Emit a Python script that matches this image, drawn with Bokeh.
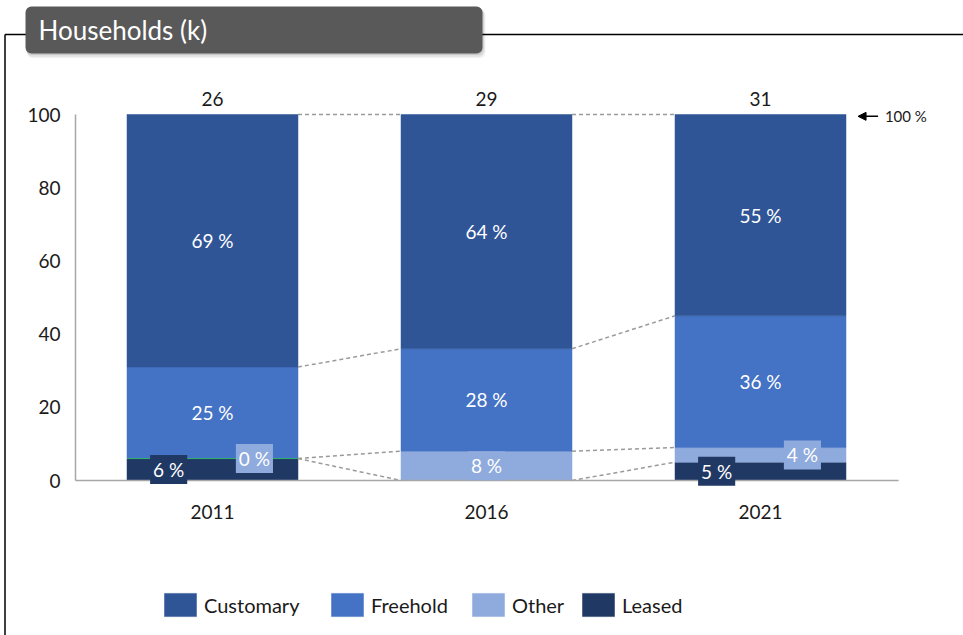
from bokeh.plotting import figure
from bokeh.models import ColumnDataSource, Range1d, Legend, LegendItem, Arrow, NormalHead
from bokeh.embed import file_html
from bokeh.resources import INLINE
from bokeh.core.properties import value

# ---------------- data ----------------
years = ["2011", "2016", "2021"]
totals_k = [26, 29, 31]
customary = [69, 64, 55]
freehold = [25, 28, 36]
other = [0, 8, 4]
leased = [6, 0, 5]
y_ticks = [0, 20, 40, 60, 80, 100]
legend_names = ["Customary", "Freehold", "Other", "Leased"]
title_text = "Households (k)"
ref_text = "100 %"

# ---------------- style / layout ----------------
C_CUST, C_FREE, C_OTH, C_LEAS = "#2F5597", "#4472C4", "#8FAADC", "#203864"
FONT_NAME = "Lato"
FONT = value(FONT_NAME)
TXT = "#1a1a1a"
FS = "19px"
W, H = 963, 635
X_PX0, X_SCALE = 75.0, 274.0   # canvas px of x=-0.5, px per unit
Y_PX0, Y_SCALE = 480.0, 3.66   # canvas px of y=0, px per unit


def px_x(fx):
    return -0.5 + (fx - X_PX0) / X_SCALE


def px_y(fy):
    return (Y_PX0 - fy) / Y_SCALE


p = figure(width=W, height=H,
           x_range=Range1d(px_x(0), px_x(W)), y_range=Range1d(px_y(H), px_y(0)),
           output_backend="svg", toolbar_location=None, min_border=0,
           x_axis_location=None, y_axis_location=None, outline_line_color=None)
p.grid.visible = False
p.background_fill_color = "white"
p.border_fill_color = "white"

# ---------------- frame lines & title box ----------------
p.segment(x0=[px_x(4.5), px_x(4.5)], y0=[px_y(34), px_y(34)],
          x1=[px_x(W), px_x(4.5)], y1=[px_y(34), px_y(H)],
          line_color="#000000", line_width=1.5)
for i, a in enumerate([0.10, 0.07, 0.05]):
    d = i + 1
    p.quad(left=px_x(25 + 0.5 * d), right=px_x(482 + d), top=px_y(6 + d), bottom=px_y(53 + 1.6 * d),
           fill_color="#000000", fill_alpha=a, line_color=None, border_radius=6)
p.quad(left=px_x(25), right=px_x(482), top=px_y(6), bottom=px_y(53),
       fill_color="#595959", line_color=None, border_radius=6)
p.text(x=[px_x(38)], y=[px_y(29)], text=[title_text], text_font=FONT,
       text_font_size="26px", text_color="white", text_align="left", text_baseline="middle")

# ---------------- bars ----------------
xs = list(range(len(years)))
bar_w = 0.624
l_top = list(leased)
o_top = [a + b for a, b in zip(l_top, other)]
f_top = [a + b for a, b in zip(o_top, freehold)]
c_top = [a + b for a, b in zip(f_top, customary)]

src = ColumnDataSource(dict(x=xs, leased=leased, other=other, freehold=freehold, customary=customary))
rs = p.vbar_stack(["leased", "other", "freehold", "customary"], x="x", width=bar_w,
                  color=[C_LEAS, C_OTH, C_FREE, C_CUST], line_width=0.5, source=src)

# thin line where "Other" has zero height
zx = [x for x, o in zip(xs, other) if o == 0]
zy = [l for l, o in zip(l_top, other) if o == 0]
p.segment(x0=[x - bar_w / 2 for x in zx], x1=[x + bar_w / 2 for x in zx], y0=zy, y1=zy,
          line_color="#2fb36a", line_width=1)

# connectors between bars
cx0, cx1, cy0, cy1 = [], [], [], []
for i in range(len(xs) - 1):
    for lev in (l_top, o_top, f_top, c_top):
        cx0.append(xs[i] + bar_w / 2)
        cx1.append(xs[i + 1] - bar_w / 2)
        cy0.append(lev[i])
        cy1.append(lev[i + 1])
p.segment(x0=cx0, y0=cy0, x1=cx1, y1=cy1, line_color="#9a9a9a", line_width=1.5, line_dash="4 3")

# axis lines
p.segment(x0=[-0.5, -0.5], y0=[0, 0], x1=[-0.5, xs[-1] + 0.504], y1=[y_ticks[-1], 0],
          line_color="#a6a6a6", line_width=1.5)

# tick labels
p.text(x=[-0.5] * len(y_ticks), y=y_ticks, text=[str(t) for t in y_ticks], x_offset=-15,
       text_font=FONT, text_font_size=FS, text_color=TXT, text_align="right", text_baseline="middle")
p.text(x=xs, y=[0] * len(xs), text=years, y_offset=31,
       text_font=FONT, text_font_size=FS, text_color=TXT, text_align="center", text_baseline="middle")

# totals
p.text(x=xs, y=c_top, text=[str(t) for t in totals_k], y_offset=-16,
       text_font=FONT, text_font_size=FS, text_color=TXT, text_align="center", text_baseline="middle")


# segment labels
def pct(v):
    return f"{v} %"


p.text(x=xs, y=[(a + b) / 2 for a, b in zip(f_top, c_top)], text=[pct(v) for v in customary],
       text_font=FONT, text_font_size=FS, text_color="white", text_align="center", text_baseline="middle")
p.text(x=xs, y=[(a + b) / 2 for a, b in zip(o_top, f_top)], text=[pct(v) for v in freehold],
       text_font=FONT, text_font_size=FS, text_color="white", text_align="center", text_baseline="middle")

oth_dx = [0.153, 0.0, 0.153]
leas_dx = [-0.16, 0.0, -0.16]
p.text(x=[x + d for x, d in zip(xs, oth_dx)], y=[(a + b) / 2 for a, b in zip(l_top, o_top)],
       text=[pct(v) for v in other], text_font=FONT, text_font_size=FS, text_color="white",
       text_align="center", text_baseline="middle", background_fill_color=C_OTH, padding=3)
li = [i for i, v in enumerate(leased) if v > 0]
p.text(x=[xs[i] + leas_dx[i] for i in li], y=[leased[i] / 2 for i in li],
       text=[pct(leased[i]) for i in li], text_font=FONT, text_font_size=FS, text_color="white",
       text_align="center", text_baseline="middle", background_fill_color=C_LEAS, padding=3)

# 100 % marker
ax_tip = xs[-1] + bar_w / 2 + 0.044
ax_tail = xs[-1] + bar_w / 2 + 0.117
p.add_layout(Arrow(end=NormalHead(size=8, fill_color="#000000", line_color="#000000"),
                   x_start=ax_tail, y_start=c_top[-1] - 0.5, x_end=ax_tip, y_end=c_top[-1] - 0.5,
                   line_color="#000000", line_width=1.5))
p.text(x=[xs[-1] + bar_w / 2 + 0.142], y=[c_top[-1] - 0.5], text=[ref_text], text_font=FONT,
       text_font_size="15px", text_color=TXT, text_align="left", text_baseline="middle")

# legend (one entry per box, placed as in the reference)
by_name = {"Leased": rs[0], "Other": rs[1], "Freehold": rs[2], "Customary": rs[3]}
legend_left_px = [160, 327, 468, 578]
for name, lx in zip(legend_names, legend_left_px):
    lg = Legend(items=[LegendItem(label=name, renderers=[by_name[name]])],
                orientation="horizontal", location=(lx, 16), glyph_width=40, glyph_height=29,
                label_standoff=4, padding=0, margin=0, border_line_color=None,
                background_fill_alpha=0, label_text_font=FONT_NAME, label_text_font_size="20px",
                label_text_color=TXT)
    p.add_layout(lg)

open("out.html", "w").write(file_html(p, INLINE))
